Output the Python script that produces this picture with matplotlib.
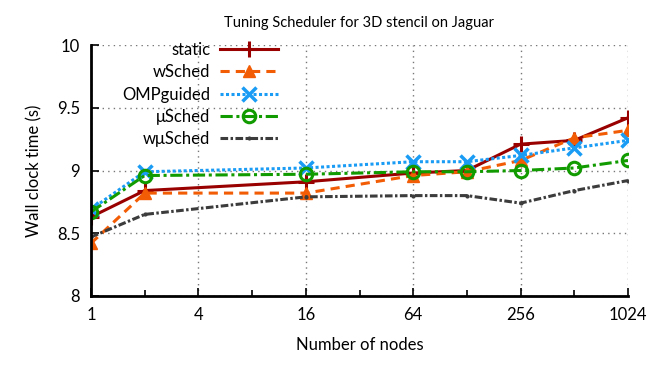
import matplotlib
matplotlib.use('Agg')
from matplotlib import pyplot as plt
from matplotlib.ticker import FixedLocator, NullFormatter
import numpy as np

plt.rcParams['font.family'] = ['Lato', 'DejaVu Sans']

nodes = [1, 2, 16, 64, 128, 256, 512, 1024]
static = [8.63, 8.84, 8.91, 8.98, 9.00, 9.21, 9.24, 9.42]
wsched = [8.42, 8.82, 8.82, 8.96, 8.99, 9.08, 9.26, 9.32]
ompguided = [8.69, 8.99, 9.02, 9.07, 9.07, 9.12, 9.18, 9.24]
usched = [8.67, 8.96, 8.97, 8.99, 8.99, 9.00, 9.02, 9.08]
wusched = [8.47, 8.65, 8.79, 8.80, 8.80, 8.74, 8.84, 8.92]

xticks = [1, 4, 16, 64, 256, 1024]
xminor = [2, 8, 32, 128, 512]
yticks = [8, 8.5, 9, 9.5, 10]
ylabels = ['8', '8.5', '9', '9.5', '10']

fig = plt.figure(figsize=(6.62, 3.66), dpi=100)
ax = fig.add_axes([91/662, 1-296/366, (628-91)/662, (296-45)/366])

ax.plot(nodes, static, color='#990000', lw=2.2, ls='-', marker='+', ms=11, mew=2.2, label='static')
ax.plot(nodes, wsched, color='#f25c05', lw=2.2, ls=(0, (3, 2)), marker='^', ms=9, label='wSched')
ax.plot(nodes, ompguided, color='#1a9cf5', lw=2.2, ls=(0, (1, 0.8)), marker='x', ms=10, mew=2.5, label='OMPguided')
ax.plot(nodes, usched, color='#119b00', lw=2.2, ls=(0, (4, 1.2, 1, 1.2)), marker='o', ms=9, mew=2.2,
        mfc='none', label='\u03bcSched')
ax.plot(nodes, wusched, color='#3c3c3c', lw=2.2, ls=(0, (2.5, 0.8, 0.8, 0.8)), marker='.', ms=4,
        label='w\u03bcSched')

ax.set_xscale('log', base=2)
ax.set_xlim(1, 1024)
ax.set_ylim(8, 10)
ax.xaxis.set_major_locator(FixedLocator(xticks))
ax.set_xticklabels([str(t) for t in xticks])
ax.xaxis.set_minor_locator(FixedLocator(xminor))
ax.xaxis.set_minor_formatter(NullFormatter())
ax.set_yticks(yticks)
ax.set_yticklabels(ylabels)
ax.tick_params(axis='both', which='major', direction='in', length=6, width=1.2, labelsize=12, pad=8)
ax.tick_params(axis='x', which='minor', direction='in', length=4, width=1.2)

ax.grid(True, which='major', ls=(0, (1, 3)), color='#777777', lw=1)
for s in ['top', 'right']:
    ax.spines[s].set_visible(False)
for s in ['left', 'bottom']:
    ax.spines[s].set_linewidth(2)

ax.set_title('Tuning Scheduler for 3D stencil on Jaguar', fontsize=10.5, pad=13)
ax.set_xlabel('Number of nodes', fontsize=12, labelpad=10)
ax.set_ylabel('Wall clock time (s)', fontsize=12, labelpad=10)

leg = ax.legend(loc='upper left', bbox_to_anchor=(0.03, 1.072), frameon=False, markerfirst=False,
                fontsize=12, handlelength=3.5, labelspacing=0.38, handletextpad=0.6)
for t in leg.get_texts():
    t.set_ha('right')
leg._legend_box.align = 'right'

fig.savefig('out.png', dpi=100)
